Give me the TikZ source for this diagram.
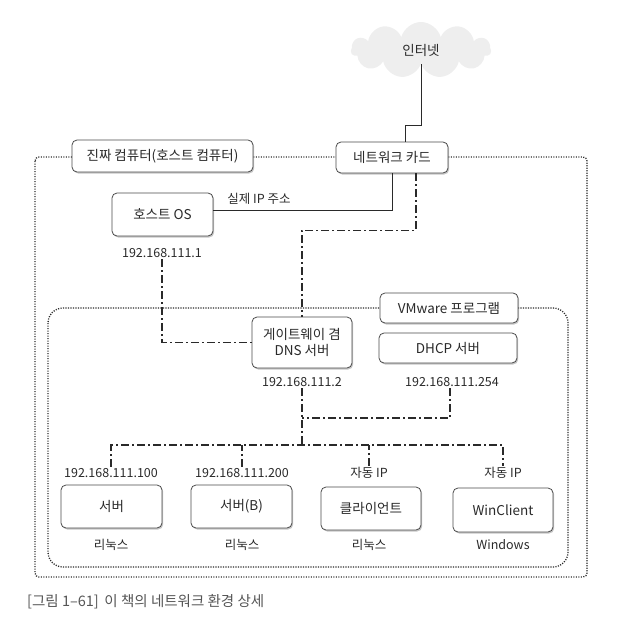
\documentclass[tikz,border=0pt]{standalone}
\usepackage{fontspec}
\setmainfont{Noto Sans CJK KR}
\usetikzlibrary{shapes.symbols,shadows}
\definecolor{ink}{HTML}{2A2A2A}
\definecolor{capgray}{HTML}{555555}
\tikzset{
  box/.style={draw=ink!85, line width=0.8pt, rounded corners=5pt, fill=white,
    drop shadow={shadow xshift=1.2pt, shadow yshift=-1.5pt, opacity=0.45},
    inner sep=0pt, align=center, text=ink, font=\fontsize{13.5}{16}\selectfont},
  lbl/.style={text=ink, font=\fontsize{12.5}{14}\selectfont, inner sep=1.5pt},
  dotline/.style={draw=ink, line width=1.3pt, dash pattern=on 1.1pt off 1.4pt},
  dashdot/.style={draw=ink, line width=1.1pt, dash pattern=on 8pt off 3pt on 2pt off 3pt},
  solidline/.style={draw=ink, line width=1pt},
}
\begin{document}
\begin{tikzpicture}[x=1pt,y=-1pt]
\useasboundingbox (0,0) rectangle (635,629);
% internet cloud
\node[cloud, cloud puffs=11, aspect=2.4, fill=gray!13, draw=none, minimum width=140pt, minimum height=56pt,
  text=ink, font=\fontsize{13.5}{16}\selectfont] (inet) at (421,50) {인터넷};
% outer dotted (host computer)
\draw[dotline, rounded corners=4pt] (35,157) rectangle (587,577);
% VMware dotted
\draw[dotline, rounded corners=15pt] (48,308) rectangle (568,567);
% boxes
\node[box, minimum width=112pt, minimum height=31pt] (netcard) at (392,157.5) {네트워크 카드};
\node[box, minimum width=181pt, minimum height=32pt] (hostlbl) at (162.5,156) {진짜 컴퓨터(호스트 컴퓨터)};
\node[box, minimum width=101pt, minimum height=43pt] (hostos) at (162.5,214.5) {호스트 OS};
\node[box, minimum width=138pt, minimum height=30pt] (vmlbl) at (449,308) {VMware 프로그램};
\node[box, minimum width=100pt, minimum height=51pt] (gw) at (302,342.5) {게이트웨이 겸\\DNS 서버};
\node[box, minimum width=138pt, minimum height=30pt] (dhcp) at (448,348) {DHCP 서버};
\node[box, minimum width=101pt, minimum height=43pt] (srv) at (111.5,506.5) {서버};
\node[box, minimum width=101pt, minimum height=43pt] (srvb) at (241.5,506.5) {서버(B)};
\node[box, minimum width=100pt, minimum height=43pt] (cli) at (371,508.5) {클라이언트};
\node[box, minimum width=100pt, minimum height=44pt] (wc) at (503,510) {WinClient};
% labels
\node[lbl] (real) at (259,199) {실제 IP 주소};
\node[lbl] (hostip) at (162,253) {192.168.111.1};
\node[lbl] (gwip) at (302,382) {192.168.111.2};
\node[lbl] (dhcpip) at (452,382) {192.168.111.254};
\node[lbl] (srvip) at (111,473) {192.168.111.100};
\node[lbl] (srvbip) at (242,473) {192.168.111.200};
\node[lbl] (cliip) at (369,473) {자동 IP};
\node[lbl] (wcip) at (503,473) {자동 IP};
\node[lbl] (srvos) at (111,545) {리눅스};
\node[lbl] (srvbos) at (242,545) {리눅스};
\node[lbl] (clios) at (369,545) {리눅스};
\node[lbl] (wcos) at (503,545) {Windows};
% connectors
\draw[solidline] (inet.south) -- (inet.south |- 0,125) -| ([xshift=13pt]netcard.north);
\draw[solidline] (hostos.east |- 0,210) -| (netcard.south);
\draw[dashdot] ([xshift=24pt]netcard.south) -- ++(0,57) -| (gw.north);
\draw[dashdot] (hostip.south) |- (gw.west);
\coordinate (jn) at (302,418);
\coordinate (bus) at (302,445);
\draw[dashdot] (gwip.south) -- (bus);
\draw[dashdot] (dhcpip.south -| 450,0) |- (jn);
\draw[dashdot] (srvip.north) |- (bus) -| (wcip.north);
\draw[dashdot] (srvbip.north) -- (srvbip.north |- bus);
\draw[dashdot] (cliip.north) -- (cliip.north |- bus);
% caption
\node[anchor=west, inner sep=0pt, text=capgray, font=\fontsize{14.5}{17}\selectfont] (cap) at (27,602) {[그림 1–61]\, 이 책의 네트워크 환경 상세};
\end{tikzpicture}
\end{document}
